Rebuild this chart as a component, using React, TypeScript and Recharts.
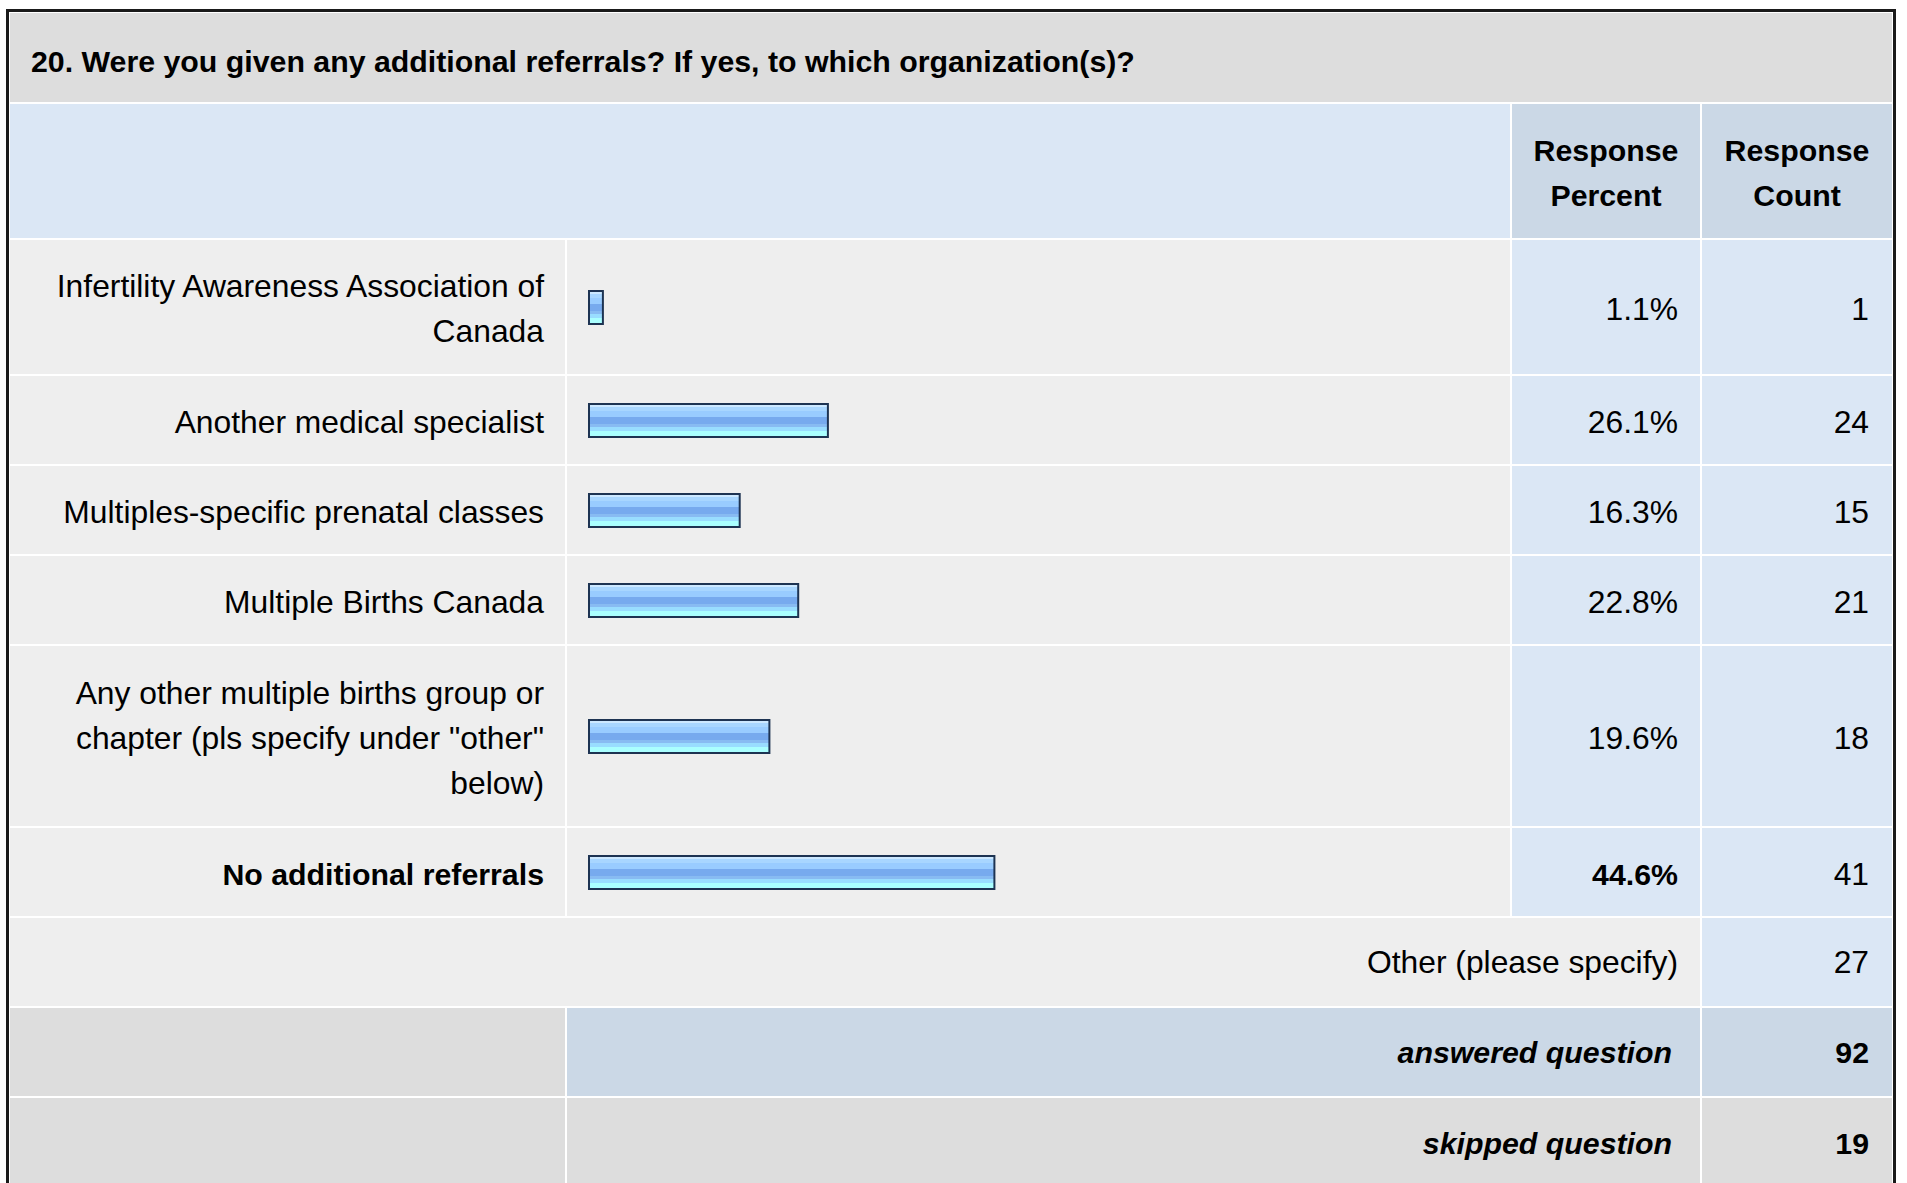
import React from 'react';
import { BarChart, Bar, XAxis, YAxis } from 'recharts';

const title = '20. Were you given any additional referrals? If yes, to which organization(s)?';
const categories = [
  'Infertility Awareness Association of Canada',
  'Another medical specialist',
  'Multiples-specific prenatal classes',
  'Multiple Births Canada',
  'Any other multiple births group or chapter (pls specify under "other" below)',
  'No additional referrals',
];
const percents = [1.1, 26.1, 16.3, 22.8, 19.6, 44.6];
const counts = [1, 24, 15, 21, 18, 41];
const otherLabel = 'Other (please specify)';
const otherCount = 27;
const answeredCount = 92;
const skippedCount = 19;

// layout
const rowHeights = [134, 88, 88, 88, 180, 88];
const FONT = '"Liberation Sans", Arial, Helvetica, sans-serif';
const LIGHT_BLUE = '#dbe7f5';
const MID_BLUE = '#cbd8e6';
const GREY = '#eeeeee';
const DARK_GREY = '#dddddd';
const maxIndex = percents.indexOf(Math.max(...percents));

const stripes: [number, string][] = [
  [0, '#cce8ff'], [0.07, '#a8d6ff'], [0.2, '#99ccff'], [0.39, '#77aaee'],
  [0.6, '#88bbf2'], [0.71, '#99ddff'], [0.84, '#aaffff'], [1, '#aaffff'],
];

const BarShape = (props: any) => {
  const { x, y, width, height, gid } = props;
  return (
    <g>
      <rect x={x} y={y} width={width + 6} height={height} fill="#1d3352" />
      <rect x={x + 2} y={y + 2} width={width + 2} height={height - 4} fill={`url(#${gid})`} />
    </g>
  );
};

const BarCell = ({ index, height }: { index: number; height: number }) => {
  const data = [{ name: categories[index], value: percents[index] }];
  const gid = `barGrad${index}`;
  return (
    <BarChart width={943} height={height} data={data} layout="vertical"
      margin={{ top: 0, right: 22, bottom: 0, left: 21 }}>
      <defs>
        <linearGradient id={gid} x1="0" y1="0" x2="0" y2="1">
          {stripes.slice(0, -1).map(([o, c], i) => (
            <React.Fragment key={i}>
              <stop offset={o} stopColor={c} />
              <stop offset={stripes[i + 1][0]} stopColor={c} />
            </React.Fragment>
          ))}
        </linearGradient>
      </defs>
      <XAxis type="number" domain={[0, 100]} hide />
      <YAxis type="category" dataKey="name" hide />
      <Bar dataKey="value" barSize={35} isAnimationActive={false}
        shape={(p: any) => <BarShape {...p} gid={gid} />} />
    </BarChart>
  );
};

const cell = (bg: string, extra: React.CSSProperties = {}): React.CSSProperties => ({
  background: bg,
  display: 'flex',
  alignItems: 'center',
  boxSizing: 'border-box',
  ...extra,
});

const App = () => {
  const regular: React.CSSProperties = { fontSize: 31.8, lineHeight: '45px' };
  const bold: React.CSSProperties = { fontSize: 30.3, lineHeight: '45px', fontWeight: 'bold' };
  const down = { paddingTop: 4 };
  return (
    <div style={{ position: 'absolute', left: 0, top: 0, width: 1907, height: 1183, overflow: 'hidden', fontFamily: FONT, color: '#000' }}>
      <div style={{ position: 'absolute', left: 6, top: 9, width: 1890, height: 1200, boxSizing: 'border-box', borderLeft: '3px solid #1a1a1a', borderRight: '3px solid #1a1a1a', borderTop: '3px solid #1a1a1a', background: '#fff', padding: 1 }}>
        <div style={{
          display: 'grid',
          gridTemplateColumns: '555px 943px 188px 190px',
          gridTemplateRows: `89px 134px ${rowHeights.map((h) => h + 'px').join(' ')} 88px 88px 90px`,
          gap: 2,
        }}>
          <div style={cell(DARK_GREY, { gridColumn: '1 / 5', paddingLeft: 21, paddingTop: 7, ...bold })}>{title}</div>
          <div style={cell(LIGHT_BLUE, { gridColumn: '1 / 3' })} />
          <div style={cell(MID_BLUE, { justifyContent: 'center', textAlign: 'center', ...down, ...bold })}>Response<br />Percent</div>
          <div style={cell(MID_BLUE, { justifyContent: 'center', textAlign: 'center', ...down, ...bold })}>Response<br />Count</div>
          {categories.map((c, i) => (
            <React.Fragment key={c}>
              <div style={cell(GREY, { justifyContent: 'flex-end', textAlign: 'right', paddingLeft: 21, paddingRight: 21, ...down, ...(i === maxIndex ? bold : regular) })}>{c}</div>
              <div style={cell(GREY)}><BarCell index={i} height={rowHeights[i]} /></div>
              <div style={cell(LIGHT_BLUE, { justifyContent: 'flex-end', paddingRight: 22, ...down, ...(i === maxIndex ? bold : regular) })}>{percents[i].toFixed(1)}%</div>
              <div style={cell(LIGHT_BLUE, { justifyContent: 'flex-end', paddingRight: 23, ...down, ...regular })}>{counts[i]}</div>
            </React.Fragment>
          ))}
          <div style={cell(GREY, { gridColumn: '1 / 4', justifyContent: 'flex-end', paddingRight: 22, ...regular })}>{otherLabel}</div>
          <div style={cell(LIGHT_BLUE, { justifyContent: 'flex-end', paddingRight: 23, ...regular })}>{otherCount}</div>
          <div style={cell(DARK_GREY)} />
          <div style={cell(MID_BLUE, { gridColumn: '2 / 4', justifyContent: 'flex-end', paddingRight: 28, fontStyle: 'italic', ...bold })}>answered question</div>
          <div style={cell(MID_BLUE, { justifyContent: 'flex-end', paddingRight: 23, ...bold })}>{answeredCount}</div>
          <div style={cell(DARK_GREY)} />
          <div style={cell(DARK_GREY, { gridColumn: '2 / 4', justifyContent: 'flex-end', paddingRight: 28, fontStyle: 'italic', ...bold })}>skipped question</div>
          <div style={cell(DARK_GREY, { justifyContent: 'flex-end', paddingRight: 23, ...bold })}>{skippedCount}</div>
        </div>
      </div>
    </div>
  );
};

export default App;
